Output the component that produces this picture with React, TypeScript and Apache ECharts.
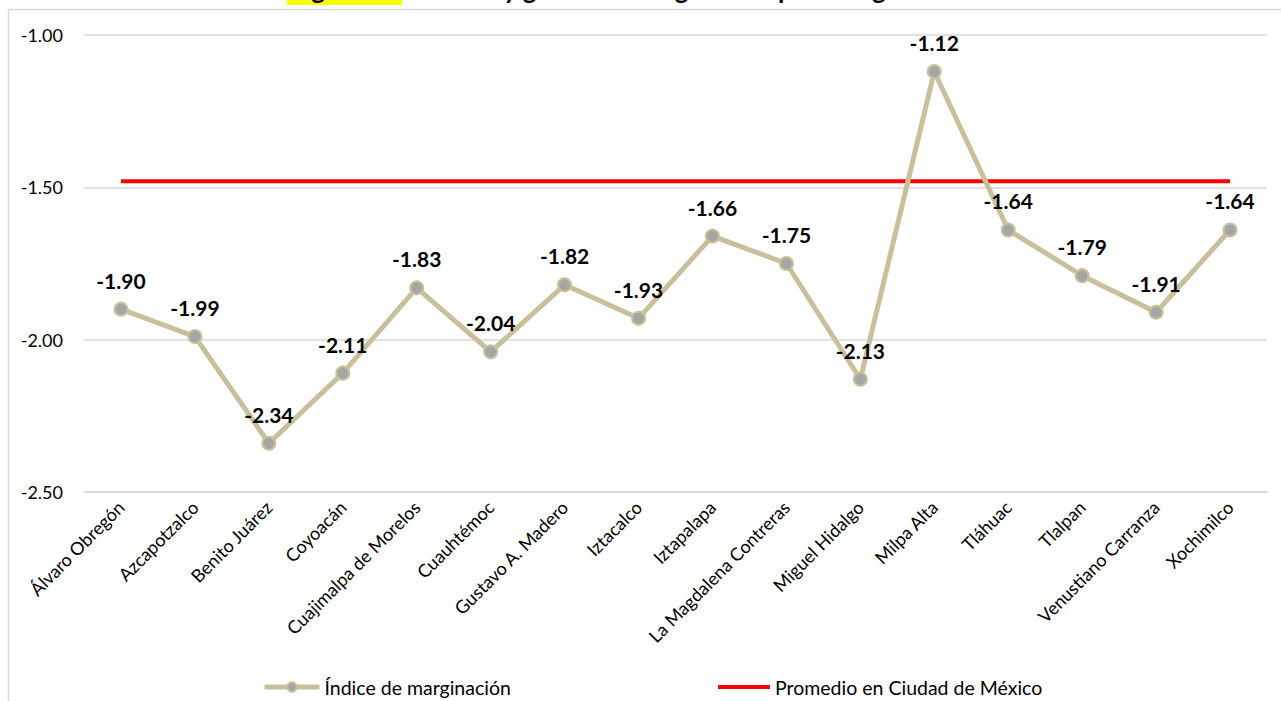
import React, { useEffect, useRef } from "react";
import * as echarts from "echarts";

const categories = [
  "Álvaro Obregón",
  "Azcapotzalco",
  "Benito Juárez",
  "Coyoacán",
  "Cuajimalpa de Morelos",
  "Cuauhtémoc",
  "Gustavo A. Madero",
  "Iztacalco",
  "Iztapalapa",
  "La Magdalena Contreras",
  "Miguel Hidalgo",
  "Milpa Alta",
  "Tláhuac",
  "Tlalpan",
  "Venustiano Carranza",
  "Xochimilco",
];

const indiceMarginacion = [
  -1.9, -1.99, -2.34, -2.11, -1.83, -2.04, -1.82, -1.93, -1.66, -1.75, -2.13,
  -1.12, -1.64, -1.79, -1.91, -1.64,
];

const promedioCDMX = [
  -1.48, -1.48, -1.48, -1.48, -1.48, -1.48, -1.48, -1.48, -1.48, -1.48, -1.48,
  -1.48, -1.48, -1.48, -1.48, -1.48,
];

const seriesNames = ["Índice de marginación", "Promedio en Ciudad de México"];
const titleNumber = "Figura 3.2";
const titleText = "Índice y grado de marginación por delegación";

const FONT = "Lato, 'Open Sans', sans-serif";

export default function App() {
  const ref = useRef<HTMLDivElement>(null);

  useEffect(() => {
    if (!ref.current) return;
    const chart = echarts.init(ref.current, undefined, { renderer: "svg" });
    chart.setOption({
      animation: false,
      backgroundColor: "#ffffff",
      textStyle: { fontFamily: FONT },
      grid: { left: 84, right: 14, top: 35, bottom: 209, containLabel: false },
      graphic: [
        {
          type: "rect",
          silent: true,
          shape: { x: 8.5, y: 9.5, width: 1400, height: 800 },
          style: { fill: "none", stroke: "#D9D9D9", lineWidth: 1.5 },
          z: -10,
        },
        {
          type: "rect",
          silent: true,
          shape: { x: 287, y: -30, width: 115, height: 35 },
          style: { fill: "#FFFF00" },
          z: -5,
        },
        {
          type: "text",
          silent: true,
          x: 290,
          y: 1.5,
          style: {
            text: titleNumber,
            font: `bold 26px ${FONT}`,
            fill: "#000",
            verticalAlign: "bottom",
          },
        },
        {
          type: "text",
          silent: true,
          x: 428,
          y: 1.5,
          style: {
            text: titleText,
            font: `bold 26px ${FONT}`,
            fill: "#000",
            verticalAlign: "bottom",
          },
        },
      ],
      legend: [
        {
          data: [seriesNames[0]],
          left: 257,
          top: 672,
          itemWidth: 55,
          itemHeight: 12,
          itemGap: 5,
          lineStyle: { width: 5 },
          textStyle: { fontSize: 19.5, color: "#000", fontFamily: FONT },
        },
        {
          data: [seriesNames[1]],
          left: 713,
          top: 672,
          icon: "rect",
          itemWidth: 52,
          itemHeight: 4,
          textStyle: { fontSize: 19.5, color: "#000", fontFamily: FONT },
        },
      ],
      xAxis: {
        type: "category",
        data: categories,
        boundaryGap: true,
        axisLine: { show: true, lineStyle: { color: "#D9D9D9", width: 1.5 } },
        axisTick: { show: false },
        axisLabel: {
          rotate: 45,
          interval: 0,
          margin: 12,
          fontSize: 18,
          color: "#000",
          fontFamily: FONT,
        },
      },
      yAxis: {
        type: "value",
        min: -2.5,
        max: -1,
        interval: 0.5,
        axisLine: { show: false },
        axisTick: { show: false },
        splitLine: { lineStyle: { color: "#D9D9D9", width: 1.5 } },
        axisLabel: {
          formatter: (v: number) => v.toFixed(2),
          fontSize: 18,
          color: "#000",
          margin: 21,
          fontFamily: FONT,
        },
      },
      series: [
        {
          name: seriesNames[0],
          type: "line",
          data: indiceMarginacion,
          symbol: "circle",
          symbolSize: 13,
          lineStyle: { color: "#C9C09B", width: 5 },
          itemStyle: { color: "#A5A5A5", borderColor: "#C9C09B", borderWidth: 2 },
          label: {
            show: true,
            position: "top",
            distance: 11,
            formatter: (p: any) => Number(p.value).toFixed(2),
            fontSize: 21,
            fontWeight: "bold",
            color: "#000",
            fontFamily: FONT,
          },
          z: 3,
        },
        {
          name: seriesNames[1],
          type: "line",
          data: promedioCDMX,
          symbol: "none",
          lineStyle: { color: "#FF0000", width: 4 },
          itemStyle: { color: "#FF0000" },
          z: 2,
        },
      ],
    });
    return () => chart.dispose();
  }, []);

  return (
    <div
      ref={ref}
      style={{ position: "absolute", left: 0, top: 0, width: 1281, height: 701 }}
    />
  );
}
